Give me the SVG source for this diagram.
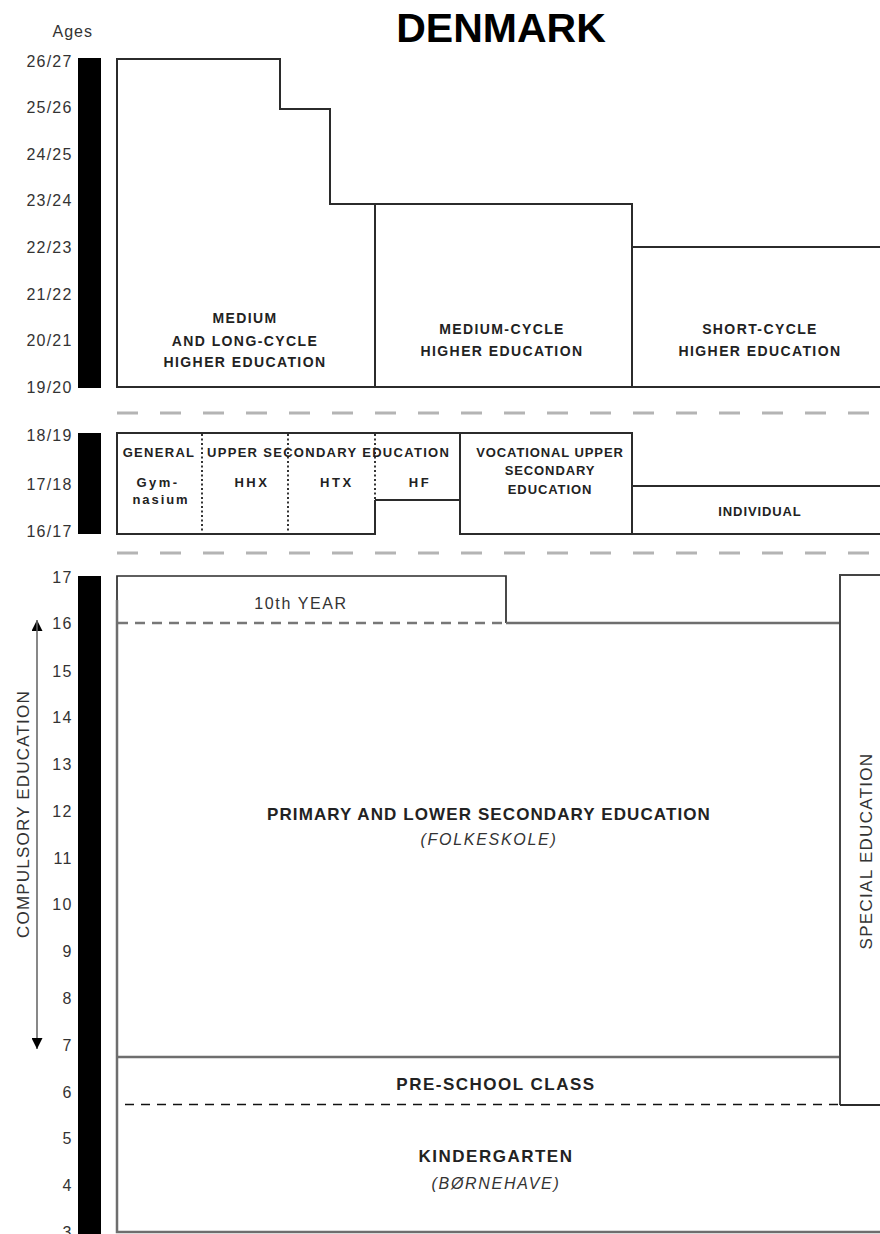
<svg xmlns="http://www.w3.org/2000/svg" width="880" height="1234" viewBox="0 0 880 1234">
<defs>
<style>
text{font-family:"Liberation Sans",Arial,Helvetica,sans-serif}
.ax{font-size:16px;fill:#333;text-anchor:end;letter-spacing:1.2px}
.hb{font-size:14px;font-weight:bold;fill:#222;text-anchor:middle;letter-spacing:1.4px}
.sb{font-size:13px;font-weight:bold;fill:#222;text-anchor:middle;letter-spacing:1.3px}
.lb{font-size:17px;font-weight:bold;fill:#222;text-anchor:middle;letter-spacing:1.5px}
.it{font-size:16px;font-style:italic;fill:#333;text-anchor:middle;letter-spacing:1.7px}
.rg{font-size:17px;fill:#333;text-anchor:middle;letter-spacing:1.3px}
.box{fill:none;stroke:#2b2b2b;stroke-width:2}
.gl{fill:none;stroke:#6e6e6e;stroke-width:2.5}
.dot{fill:none;stroke:#111;stroke-width:1.7;stroke-dasharray:2 2.5}
.sep{fill:none;stroke:#b4b4b4;stroke-width:3;stroke-dasharray:21 22}
.bar{fill:#000}
</style>
<marker id="ah" viewBox="0 0 10 10" refX="10" refY="5" markerWidth="12" markerHeight="11" markerUnits="userSpaceOnUse" orient="auto">
<path d="M0,0 L10,5 L0,10 Z" fill="#000"/>
</marker>
</defs>
<rect width="880" height="1234" fill="#fff"/>

<g id="title">
<text x="501" y="42" style="font-size:41px;font-weight:bold;fill:#000;text-anchor:middle">DENMARK</text>
</g>

<g id="age-axis">
<text x="93" y="37" class="ax" style="font-size:16px;letter-spacing:1px">Ages</text>
<rect class="bar" x="78" y="58" width="23" height="330"/>
<rect class="bar" x="78" y="433" width="23" height="101"/>
<rect class="bar" x="78" y="576" width="23" height="658"/>
<text x="72.5" y="66.5" class="ax">26/27</text>
<text x="72.5" y="113" class="ax">25/26</text>
<text x="72.5" y="159.5" class="ax">24/25</text>
<text x="72.5" y="206" class="ax">23/24</text>
<text x="72.5" y="252.5" class="ax">22/23</text>
<text x="72.5" y="299.5" class="ax">21/22</text>
<text x="72.5" y="346" class="ax">20/21</text>
<text x="72.5" y="393" class="ax">19/20</text>
<text x="72.5" y="441" class="ax">18/19</text>
<text x="72.5" y="490" class="ax">17/18</text>
<text x="72.5" y="537" class="ax">16/17</text>
<text x="72.5" y="583" class="ax">17</text>
<text x="72.5" y="629" class="ax">16</text>
<text x="72.5" y="677" class="ax">15</text>
<text x="72.5" y="723" class="ax">14</text>
<text x="72.5" y="770" class="ax">13</text>
<text x="72.5" y="817" class="ax">12</text>
<text x="72.5" y="864" class="ax">11</text>
<text x="72.5" y="910" class="ax">10</text>
<text x="72.5" y="957" class="ax">9</text>
<text x="72.5" y="1004" class="ax">8</text>
<text x="72.5" y="1051" class="ax">7</text>
<text x="72.5" y="1098" class="ax">6</text>
<text x="72.5" y="1144" class="ax">5</text>
<text x="72.5" y="1191" class="ax">4</text>
<text x="72.5" y="1238" class="ax">3</text>
</g>

<g id="long-cycle-higher">
<path class="box" d="M117,387 V59 H280 V109 H330 V204 H375 V387 Z"/>
<text x="245" y="323" class="hb">MEDIUM</text>
<text x="245" y="345.5" class="hb">AND LONG-CYCLE</text>
<text x="245" y="367" class="hb">HIGHER EDUCATION</text>
</g>

<g id="medium-cycle-higher">
<path class="box" d="M375,387 V204 H632 V387 Z"/>
<text x="502" y="334" class="hb">MEDIUM-CYCLE</text>
<text x="502" y="356" class="hb">HIGHER EDUCATION</text>
</g>

<g id="short-cycle-higher">
<path class="box" d="M880,247 H632 V387 H880"/>
<text x="760" y="334" class="hb">SHORT-CYCLE</text>
<text x="760" y="356" class="hb">HIGHER EDUCATION</text>
</g>

<g id="general-upper-secondary">
<path class="box" d="M460,433 H117 V534 H375 V500"/>
<path class="dot" d="M202,434 V533 M288,434 V533 M375,434 V500"/>
<text x="159" y="456.5" class="sb">GENERAL</text>
<text x="207" y="456.5" class="sb" style="text-anchor:start">UPPER SECONDARY EDUCATION</text>
<text x="158" y="487" class="sb" style="letter-spacing:2.4px">Gym-</text>
<text x="161" y="504" class="sb" style="letter-spacing:1.9px">nasium</text>
<text x="252" y="487" class="sb" style="letter-spacing:2.6px">HHX</text>
<text x="337" y="487" class="sb" style="letter-spacing:2.6px">HTX</text>
<text x="420" y="487" class="sb" style="letter-spacing:2.6px">HF</text>
</g>

<g id="hf">
<path class="box" d="M375,500 H460"/>
</g>

<g id="vocational-upper-secondary">
<rect class="box" x="460" y="433" width="172" height="101"/>
<text x="550" y="456.5" class="sb" style="letter-spacing:0.9px">VOCATIONAL UPPER</text>
<text x="550" y="475" class="sb" style="letter-spacing:0.9px">SECONDARY</text>
<text x="550" y="493.5" class="sb" style="letter-spacing:0.9px">EDUCATION</text>
</g>

<g id="individual">
<path class="box" d="M880,486 H632 V534 H880"/>
<text x="760" y="516" class="sb" style="letter-spacing:0.9px">INDIVIDUAL</text>
</g>

<g id="tenth-year">
<path class="box" d="M117,623 V576 H506 V623" style="stroke-width:1.7"/>
<path d="M118,623 H506" fill="none" stroke="#777" stroke-width="2.5" stroke-dasharray="10 7"/>
<text x="301" y="609" class="rg" style="font-size:16px;letter-spacing:1.6px">10th YEAR</text>
</g>

<g id="primary-lower-secondary">
<path class="gl" d="M506,623 H840"/>
<path class="gl" d="M117,600 V1232 H880"/>
<path class="gl" d="M117,1057 H840"/>
<text x="489" y="820" class="lb" style="letter-spacing:1.1px">PRIMARY AND LOWER SECONDARY EDUCATION</text>
<text x="489" y="845" class="it">(FOLKESKOLE)</text>
</g>

<g id="pre-school-class">
<path d="M125,1104.5 H840" fill="none" stroke="#111" stroke-width="1.7" stroke-dasharray="9 7"/>
<text x="496" y="1090" class="lb">PRE-SCHOOL CLASS</text>
</g>

<g id="kindergarten">
<text x="496" y="1162" class="lb">KINDERGARTEN</text>
<text x="496" y="1189" class="it">(BØRNEHAVE)</text>
</g>

<g id="special-education">
<path class="box" d="M840,1105 V575 H880" style="stroke:#444"/>
<path class="box" d="M840,1105 H880"/>
<text transform="translate(872,851) rotate(-90)" x="0" y="0" class="rg">SPECIAL EDUCATION</text>
</g>

<g id="compulsory-education">
<text transform="translate(29,814) rotate(-90)" x="0" y="0" class="rg" style="letter-spacing:1.2px">COMPULSORY EDUCATION</text>
</g>

<g id="connectors">
<path class="sep" d="M117,413 H880"/>
<path class="sep" d="M117,553 H880"/>
<path d="M37,1049 V620" fill="none" stroke="#777" stroke-width="1.3" marker-end="url(#ah)"/>
<path d="M37,620 V1049" fill="none" stroke="#777" stroke-width="1.3" marker-end="url(#ah)"/>
</g>
</svg>
